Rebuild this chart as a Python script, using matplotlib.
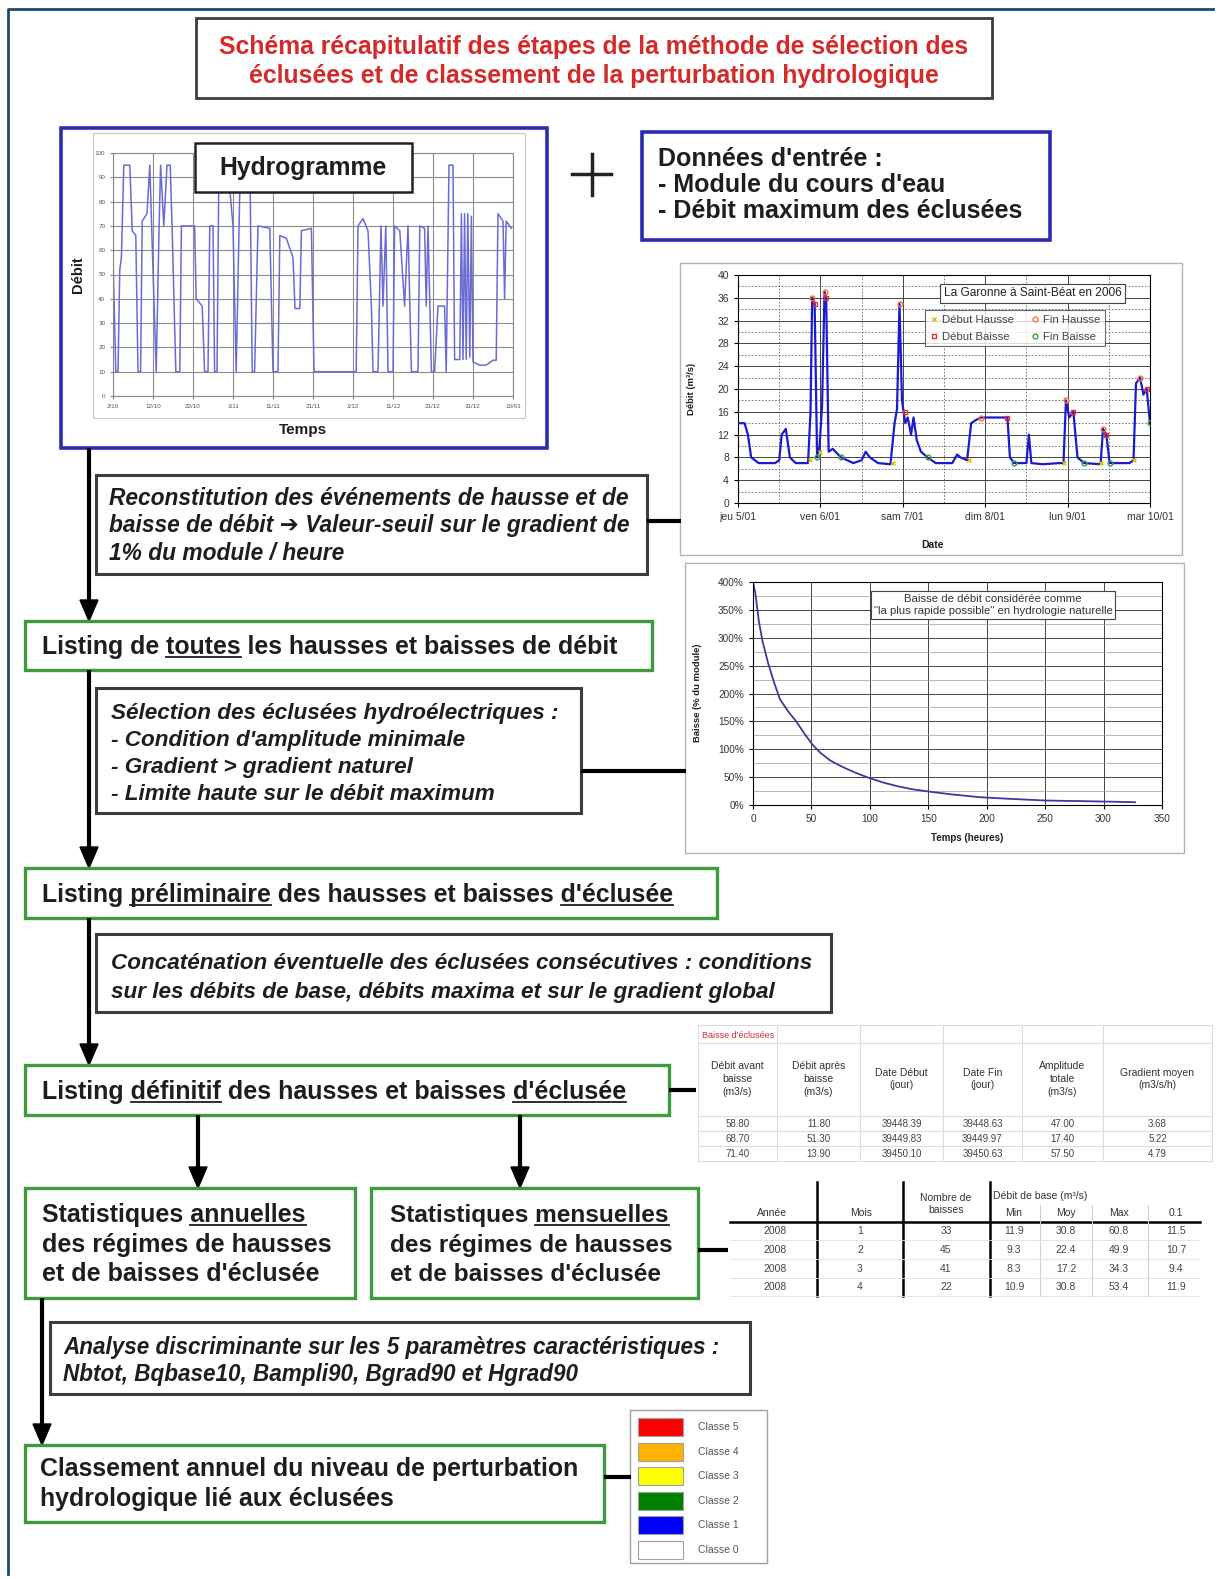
import matplotlib.pyplot as plt
from matplotlib import font_manager
from matplotlib.patches import Rectangle, Polygon
from matplotlib.ticker import MultipleLocator

W, H = 1219, 1579

# ==========================================================
# Données
# ==========================================================

# hydrogramme (temps arbitraire 0-100, débit 0-100)
hydro_t = [0, 0.7, 1.25, 1.7, 2.1, 2.7, 4.2, 4.8, 5.7, 6.25,
           6.9, 7.3, 8.5, 9.2, 9.7, 10.8, 11.5, 11.9, 12.7, 13.5,
           14.3, 14.8, 15.7, 16.7, 17.1, 20.4, 20.8, 22.3, 22.9, 23.75,
           24.2, 25.0, 25.4, 26.0, 26.5, 29.2, 30.0, 30.8, 31.7, 34.3,
           34.8, 35.4, 36.25, 39.2, 40.0, 41.25, 41.7, 43.3, 45.0, 45.5,
           46.7, 47.1, 49.6, 50.25, 60.8, 61.25, 62.5, 63.75, 64.6, 65.0,
           66.25, 67.0, 67.5, 68.2, 68.75, 70.0, 70.4, 71.7, 72.9, 73.75,
           74.6, 76.25, 76.7, 77.9, 78.3, 78.75, 79.6, 80.4, 81.25, 82.9,
           83.3, 84.0, 85.0, 85.4, 86.7, 87.1, 87.5, 87.9, 88.3, 88.7,
           89.2, 89.6, 90.0, 91.7, 93.3, 95.0, 95.8, 96.25, 97.5, 97.9,
           98.3, 99.6]
hydro_q = [57, 10, 10, 52, 57, 95, 95, 68, 66, 10,
           10, 72, 75, 95, 68, 10, 68, 95, 70, 95,
           95, 68, 10, 10, 70, 70, 40, 37, 10, 10,
           70, 70, 10, 10, 98, 85, 70, 10, 85, 85,
           10, 10, 70, 69, 10, 10, 66, 65, 57, 36,
           36, 68, 69, 10, 10, 70, 73, 68, 37, 10,
           10, 70, 37, 70, 10, 10, 70, 68, 37, 70,
           10, 10, 70, 69, 37, 70, 10, 10, 37, 37,
           10, 95, 95, 15, 15, 75, 15, 75, 15, 75,
           16, 74, 14, 12.7, 12.7, 14.7, 14.7, 75, 72, 40,
           72, 69]
hydro_xlabels = ['2/10', '12/10', '22/10', '1/11', '11/11', '21/11',
                 '1/12', '11/12', '21/12', '31/12', '10/01']

# La Garonne à Saint-Béat (jours depuis jeu 5/01, m3/s)
garonne_j = [0, 0.08, 0.12, 0.16, 0.25, 0.45, 0.5, 0.53, 0.58, 0.6,
             0.63, 0.7, 0.85, 0.88, 0.9, 0.93, 0.96, 0.99, 1.02, 1.05,
             1.07, 1.1, 1.15, 1.25, 1.4, 1.5, 1.55, 1.6, 1.7, 1.85,
             1.9, 1.93, 1.96, 1.99, 2.03, 2.06, 2.1, 2.13, 2.17, 2.22,
             2.3, 2.4, 2.6, 2.66, 2.7, 2.78, 2.83, 2.88, 2.95, 3.2,
             3.27, 3.3, 3.35, 3.5, 3.53, 3.56, 3.7, 3.9, 3.95, 3.98,
             4.02, 4.07, 4.12, 4.2, 4.4, 4.43, 4.47, 4.51, 4.75, 4.8,
             4.83, 4.88, 4.92, 4.96, 5.0]
garonne_q = [14, 14, 12, 8, 7, 7, 7.5, 12, 13, 11,
             8, 7, 7, 16, 36, 35, 8, 10, 17, 37,
             36, 9, 9.5, 8, 7, 7.5, 9, 8, 7, 6.8,
             14, 16.5, 35, 18, 14, 15, 12, 15, 11, 9,
             8, 7, 7, 8.5, 8, 7.5, 14, 14.5, 15, 15,
             15, 8, 7, 7, 12, 7, 6.8, 7, 7, 18,
             15, 16, 8, 7, 6.8, 13, 12, 7, 7, 7.5,
             21, 22, 19, 20, 14]
garonne_jours = ['jeu 5/01', 'ven 6/01', 'sam 7/01', 'dim 8/01', 'lun 9/01', 'mar 10/01']
debut_hausse_j = [0.87, 1.0, 1.88, 2.8, 3.96, 4.41, 4.81]
debut_hausse_q = [7.5, 9, 7, 7.5, 7, 7, 7.5]
fin_hausse_j = [0.9, 1.05, 1.96, 2.95, 3.98, 4.43, 4.88]
fin_hausse_q = [36, 37, 35, 15, 18, 13, 22]
debut_baisse_j = [0.93, 1.07, 2.03, 3.27, 4.07, 4.47, 4.96]
debut_baisse_q = [35, 36, 16, 15, 16, 12, 20]
fin_baisse_j = [0.96, 1.25, 2.3, 3.35, 4.2, 4.51, 5.0]
fin_baisse_q = [8, 8, 8, 7, 7, 7, 14]

# baisse naturelle la plus rapide (heures, % du module)
baisse_h = [0, 2, 5, 8, 13, 18, 23, 30, 37, 44, 51, 58, 66, 73,
            80, 90, 100, 112, 123, 137, 151, 170, 194, 220, 251, 280, 305, 327]
baisse_pct = [400, 380, 330, 295, 254, 220, 190, 168, 150, 128, 108, 93, 80, 72,
              65, 56, 48, 40, 34, 28, 24, 19, 14, 11, 8, 7, 6, 5]

# tableau des baisses d'éclusées
tab1_titre = "Baisse d'éclusées"
tab1_entetes = ['Débit avant\nbaisse\n(m3/s)', 'Débit après\nbaisse\n(m3/s)', 'Date Début\n(jour)',
                'Date Fin\n(jour)', 'Amplitude\ntotale\n(m3/s)', 'Gradient moyen\n(m3/s/h)']
tab1_avant = ['58.80', '68.70', '71.40']
tab1_apres = ['11.80', '51.30', '13.90']
tab1_debut = ['39448.39', '39449.83', '39450.10']
tab1_fin = ['39448.63', '39449.97', '39450.63']
tab1_ampl = ['47.00', '17.40', '57.50']
tab1_grad = ['3.68', '5.22', '4.79']

# tableau des statistiques mensuelles
tab2_annee = ['2008', '2008', '2008', '2008']
tab2_mois = ['1', '2', '3', '4']
tab2_nb = ['33', '45', '41', '22']
tab2_min = ['11.9', '9.3', '8.3', '10.9']
tab2_moy = ['30.8', '22.4', '17.2', '30.8']
tab2_max = ['60.8', '49.9', '34.3', '53.4']
tab2_q = ['11.5', '10.7', '9.4', '11.9']

classes = ['Classe 5', 'Classe 4', 'Classe 3', 'Classe 2', 'Classe 1', 'Classe 0']
classes_couleurs = ['#ff0000', '#ffb300', '#ffff00', '#008000', '#0000ff', '#ffffff']

# ==========================================================
# Polices
# ==========================================================
noms = {f.name for f in font_manager.fontManager.ttflist}
NARROW = 'Liberation Sans Narrow' if 'Liberation Sans Narrow' in noms else 'Liberation Sans'
plt.rcParams['font.family'] = ['Liberation Sans', 'DejaVu Sans']

GRAS = dict(family=['Liberation Sans', 'DejaVu Sans'], fontweight='bold', color='#1e1e1e')
ITAL = dict(family=[NARROW, 'DejaVu Sans'], fontweight='bold', fontstyle='italic', color='#1e1e1e')
TITRE = dict(family=[NARROW, 'Liberation Sans'], fontweight='bold', color='#d42a2a')

# ==========================================================
# Figure : un axe principal en pixels + des encarts
# ==========================================================
fig = plt.figure(figsize=(W / 100, H / 100), dpi=100)
ax = fig.add_axes([0, 0, 1, 1])
ax.set_xlim(0, W)
ax.set_ylim(H, 0)
ax.axis('off')
ax.set_zorder(5)
r = fig.canvas.get_renderer()


def zone(x0, y0, x1, y1):
    a = fig.add_axes([x0 / W, 1 - y1 / H, (x1 - x0) / W, (y1 - y0) / H])
    a.set_zorder(1)
    return a


def cadre(x0, y0, x1, y1, couleur, lw, fond='white'):
    ax.add_patch(Rectangle((x0, y0), x1 - x0, y1 - y0, fc=fond or 'none', ec=couleur, lw=lw))


def largeur(t):
    return t.get_window_extent(r).width


def bloc(lignes, x, ys, cible, ha='left', **style):
    """lignes de texte, taille ajustée pour que la plus longue fasse 'cible' px"""
    txts = [ax.text(x, y, l, ha=ha, va='baseline', fontsize=14, **style) for l, y in zip(lignes, ys)]
    taille = 14 * cible / max(largeur(t) for t in txts)
    px = taille * 100 / 72
    for t, y in zip(txts, ys):
        t.set_fontsize(taille)
        t.set_y(y + 0.36 * px)
    return txts


def souligne(t, mot):
    s = t.get_text()
    i = s.index(mot)
    props = dict(fontsize=t.get_fontsize(), fontweight=t.get_fontweight(),
                 fontstyle=t.get_fontstyle(), family=t.get_fontfamily())
    tmp = ax.text(0, 0, s[:i + len(mot)], **props)
    w_fin = largeur(tmp)
    tmp.remove()
    tmp = ax.text(0, 0, mot, **props)
    w_mot = largeur(tmp)
    tmp.remove()
    x0 = t.get_position()[0] + w_fin - w_mot
    y = t.get_position()[1] + 0.12 * t.get_fontsize() * 100 / 72
    ax.plot([x0, x0 + w_mot], [y, y], color='#1e1e1e', lw=1.3)


def fleche(x, y0, y1):
    ax.plot([x, x], [y0, y1 - 16], color='k', lw=3, solid_capstyle='butt')
    ax.add_patch(Polygon([(x - 9, y1 - 21), (x + 9, y1 - 21), (x, y1)], closed=True, color='k'))


def trait(x0, x1, y):
    ax.plot([x0, x1], [y, y], color='k', lw=3, solid_capstyle='butt')


VERT = '#3f9a3f'
GRIS = '#3c3c3c'
BLEU = '#2b2bb0'

# cadre général
ax.plot([8, 8, 1213], [1574, 9, 9], color='#1f4a6e', lw=2)

# titre
cadre(196, 18, 992, 98, GRIS, 2)
bloc(['Schéma récapitulatif des étapes de la méthode de sélection des',
      'éclusées et de classement de la perturbation hydrologique'],
     594, [45, 74], 752, ha='center', **TITRE)

# ---------------- hydrogramme ----------------
cadre(61, 128, 547, 448, BLEU, 2.6, fond=None)
cadre(93, 133, 525, 418, '#c8c8c8', 0.8, fond=None)
ah = zone(113, 153, 513, 396)
ah.plot(hydro_t, hydro_q, color='#6b6bd6', lw=1.1)
ah.set_xlim(0, 100)
ah.set_ylim(0, 100)
ah.set_xticks(range(0, 101, 10))
ah.set_xticklabels(hydro_xlabels)
ah.set_yticks(range(0, 101, 10))
ah.grid(True, color='#8c8c8c', lw=0.8)
ah.tick_params(labelsize=4.5, labelcolor='#555', length=2, color='#888')
for s in ah.spines.values():
    s.set_color('#888')
ax.text(78, 275, 'Débit', rotation=90, ha='center', va='center', fontsize=10.5, **GRAS)
ax.text(303, 430, 'Temps', ha='center', va='center', fontsize=11, **GRAS)
cadre(195, 143, 412, 192, '#222', 1.8)
bloc(['Hydrogramme'], 303, [166], 168, ha='center', **GRAS)

# signe +
ax.plot([572, 611], [174, 174], color='#222', lw=2.5)
ax.plot([592, 592], [154, 195], color='#222', lw=2.5)

# données d'entrée
cadre(642, 132, 1050, 240, BLEU, 2.6)
bloc(["Données d'entrée :", "- Module du cours d'eau", '- Débit maximum des éclusées'],
     658, [157, 183, 209], 365, **GRAS)

# ---------------- La Garonne ----------------
cadre(680, 263, 1182, 555, '#b4b4b4', 1.0, fond=None)
ag = zone(738, 275, 1150, 503)
ag.plot(garonne_j, garonne_q, color='#1a1ad0', lw=1.6, zorder=3)
# ordre choisi pour que la légende sur 2 colonnes lise Hausse / Baisse par ligne
ag.plot(debut_hausse_j, debut_hausse_q, 'x', color='#e8c000', ms=3.5, mew=1, zorder=4, label='Début Hausse')
ag.plot(debut_baisse_j, debut_baisse_q, 's', mfc='none', mec='#e03030', ms=3, zorder=4, label='Début Baisse')
ag.plot(fin_hausse_j, fin_hausse_q, 'o', mfc='none', mec='#ff7030', ms=3.5, zorder=4, label='Fin Hausse')
ag.plot(fin_baisse_j, fin_baisse_q, 'o', mfc='none', mec='#40a040', ms=3.5, zorder=4, label='Fin Baisse')
ag.set_xlim(0, 5)
ag.set_ylim(0, 40)
ag.set_xticks(range(6))
ag.set_xticklabels(garonne_jours)
ag.xaxis.set_minor_locator(MultipleLocator(0.5))
ag.set_yticks(range(0, 41, 4))
ag.yaxis.set_minor_locator(MultipleLocator(2))
ag.grid(True, which='major', color='#444', lw=0.7)
ag.grid(True, which='minor', color='#666', lw=0.6, ls=(0, (2, 2)))
ag.tick_params(labelsize=7.5, labelcolor='#333', length=3)
ag.tick_params(which='minor', length=0)
ag.text(0.715, 0.92, 'La Garonne à Saint-Béat en 2006', transform=ag.transAxes, ha='center', va='center',
        fontsize=8.6, color='#222',
        bbox=dict(boxstyle='square,pad=0.3', fc='white', ec='#444', lw=0.8), zorder=6)
lg = ag.legend(loc='upper left', bbox_to_anchor=(0.454, 0.846), ncol=2, fontsize=8.2, frameon=True,
               fancybox=False, edgecolor='#444', borderaxespad=0, handletextpad=0.3,
               columnspacing=1.4, labelspacing=0.6, handlelength=0.8, borderpad=0.4)
lg.get_frame().set_linewidth(0.8)
lg.set_zorder(6)
for t in lg.get_texts():
    t.set_color('#444')
ax.text(692, 389, 'Débit (m³/s)', rotation=90, ha='center', va='center', fontsize=6.8, **GRAS)
ax.text(933, 545, 'Date', ha='center', va='center', fontsize=7.5, **GRAS)

# ---------------- baisse naturelle ----------------
cadre(685, 563, 1184, 853, '#b4b4b4', 1.0, fond=None)
ab = zone(753, 582, 1162, 805)
ab.plot(baisse_h, baisse_pct, color='#3b3b9e', lw=1.3)
ab.set_xlim(0, 350)
ab.set_ylim(0, 400)
ab.set_xticks(range(0, 351, 50))
ab.set_yticks(range(0, 401, 50))
ab.set_yticklabels([f'{v}%' for v in range(0, 401, 50)])
ab.yaxis.set_minor_locator(MultipleLocator(25))
ab.grid(True, which='major', color='#444', lw=0.7)
ab.grid(True, which='minor', axis='y', color='#999', lw=0.5)
ab.tick_params(labelsize=7.2, labelcolor='#333', length=3)
ab.tick_params(which='minor', length=0)
ab.text(0.587, 0.897, 'Baisse de débit considérée comme\n"la plus rapide possible" en hydrologie naturelle',
        transform=ab.transAxes, ha='center', va='center', fontsize=8.2, color='#333', linespacing=1.2,
        bbox=dict(boxstyle='square,pad=0.25', fc='white', ec='#444', lw=0.8))
ax.text(697, 693, 'Baisse (% du module)', rotation=90, ha='center', va='center', fontsize=6.8, **GRAS)
ax.text(967, 838, 'Temps (heures)', ha='center', va='center', fontsize=7, **GRAS)

# ---------------- flèches et traits ----------------
fleche(89, 448, 621)
fleche(89, 670, 868)
fleche(89, 918, 1065)
fleche(198, 1115, 1188)
fleche(520, 1115, 1188)
fleche(42, 1298, 1445)
trait(647, 681, 521)
trait(581, 686, 771)
trait(669, 696, 1090)
trait(698, 728, 1250)
trait(604, 631, 1477)

# ---------------- boîtes du schéma ----------------
cadre(96, 475, 647, 574, GRIS, 2.2)
t = bloc(['Reconstitution des événements de hausse et de',
          'baisse de débit ➔ Valeur-seuil sur le gradient de',
          '1% du module / heure'], 109, [497, 524, 552], 520, **ITAL)

cadre(25, 621, 652, 670, VERT, 2.4)
t = bloc(['Listing de toutes les hausses et baisses de débit'], 42, [645], 577, **GRAS)
souligne(t[0], 'toutes')

cadre(96, 688, 581, 813, GRIS, 2.2)
bloc(['Sélection des éclusées hydroélectriques :', "- Condition d'amplitude minimale",
      '- Gradient > gradient naturel', '- Limite haute sur le débit maximum'],
     111, [711, 738, 765, 792], 448, **ITAL)

cadre(25, 868, 717, 918, VERT, 2.4)
t = bloc(["Listing préliminaire des hausses et baisses d'éclusée"], 42, [893], 635, **GRAS)
souligne(t[0], 'préliminaire')
souligne(t[0], "d'éclusée")

cadre(96, 934, 831, 1012, GRIS, 2.2)
bloc(['Concaténation éventuelle des éclusées consécutives : conditions',
      'sur les débits de base, débits maxima et sur le gradient global'],
     111, [961, 990], 702, **ITAL)

cadre(25, 1065, 669, 1115, VERT, 2.4)
t = bloc(["Listing définitif des hausses et baisses d'éclusée"], 42, [1090], 585, **GRAS)
souligne(t[0], 'définitif')
souligne(t[0], "d'éclusée")

cadre(25, 1188, 355, 1298, VERT, 2.4)
t = bloc(['Statistiques annuelles', 'des régimes de hausses', "et de baisses d'éclusée"],
         42, [1213, 1243, 1272], 290, **GRAS)
souligne(t[0], 'annuelles')

cadre(371, 1188, 698, 1298, VERT, 2.4)
t = bloc(['Statistiques mensuelles', 'des régimes de hausses', "et de baisses d'éclusée"],
         390, [1213, 1243, 1272], 282, **GRAS)
souligne(t[0], 'mensuelles')

cadre(50, 1322, 750, 1394, GRIS, 2.2)
bloc(['Analyse discriminante sur les 5 paramètres caractéristiques :',
      'Nbtot, Bqbase10, Bampli90, Bgrad90 et Hgrad90'], 63, [1346, 1373], 660, **ITAL)

cadre(25, 1445, 604, 1522, VERT, 2.4)
bloc(['Classement annuel du niveau de perturbation', 'hydrologique lié aux éclusées'],
     40, [1467, 1497], 541, **GRAS)

# ---------------- tableau 1 ----------------
col1 = [698, 777, 860, 943, 1022, 1103, 1212]
lig1 = [1025, 1043, 1116, 1131, 1146, 1161]
for x in col1:
    ax.plot([x, x], [lig1[0], lig1[-1]], color='#dcdcdc', lw=0.8)
for y in lig1:
    ax.plot([col1[0], col1[-1]], [y, y], color='#dcdcdc', lw=0.8)
ax.text(702, 1035, tab1_titre, ha='left', va='center', fontsize=6.5, color='#d03030')
cols1 = [tab1_avant, tab1_apres, tab1_debut, tab1_fin, tab1_ampl, tab1_grad]
for j, (ent, vals) in enumerate(zip(tab1_entetes, cols1)):
    xc = (col1[j] + col1[j + 1]) / 2
    ax.text(xc, 1079, ent, ha='center', va='center', fontsize=7.5, color='#333', linespacing=1.35)
    for i, v in enumerate(vals):
        ax.text(xc, 1124 + 15 * i, v, ha='center', va='center', fontsize=7, color='#444')

# ---------------- tableau 2 ----------------
for x in [817, 903, 990]:
    ax.plot([x, x], [1182, 1296], color='k', lw=1.8)
ax.plot([730, 1200], [1222, 1222], color='k', lw=1.8)
for x in [1040, 1092, 1148]:
    ax.plot([x, x], [1205, 1296], color='#d0d0d0', lw=0.8)
for y in [1240, 1259, 1278, 1296]:
    ax.plot([730, 1200], [y, y], color='#e0e0e0', lw=0.6)
ax.text(772, 1213, 'Année', ha='center', va='center', fontsize=7.5, color='#333')
ax.text(861, 1213, 'Mois', ha='center', va='center', fontsize=7.5, color='#333')
ax.text(946, 1204, 'Nombre de\nbaisses', ha='center', va='center', fontsize=7.5, color='#333',
        linespacing=1.3)
ax.text(993, 1196, 'Débit de base (m³/s)', ha='left', va='center', fontsize=7.5, color='#333')
cols2 = [tab2_annee, tab2_mois, tab2_nb, tab2_min, tab2_moy, tab2_max, tab2_q]
xs2 = [775, 860, 946, 1014, 1066, 1119, 1176]
for x, ent in zip(xs2[3:], ['Min', 'Moy', 'Max', '0.1']):
    ax.text(x, 1213, ent, ha='center', va='center', fontsize=7.5, color='#333')
for x, vals in zip(xs2, cols2):
    for i, v in enumerate(vals):
        ax.text(x, 1231 + 18.8 * i, v, ha='center', va='center', fontsize=7.5, color='#444')

# ---------------- légende des classes ----------------
cadre(630, 1410, 767, 1563, '#a0a0a0', 1.0)
for i, (nom, c) in enumerate(zip(classes, classes_couleurs)):
    y = 1427 + 24.6 * i
    ax.add_patch(Rectangle((638, y - 9), 45, 18, fc=c, ec='#a0a0a0', lw=0.8))
    ax.text(698, y, nom, ha='left', va='center', fontsize=7.5, color='#555', family=NARROW)

fig.savefig('out.png', dpi=100, facecolor='white')
